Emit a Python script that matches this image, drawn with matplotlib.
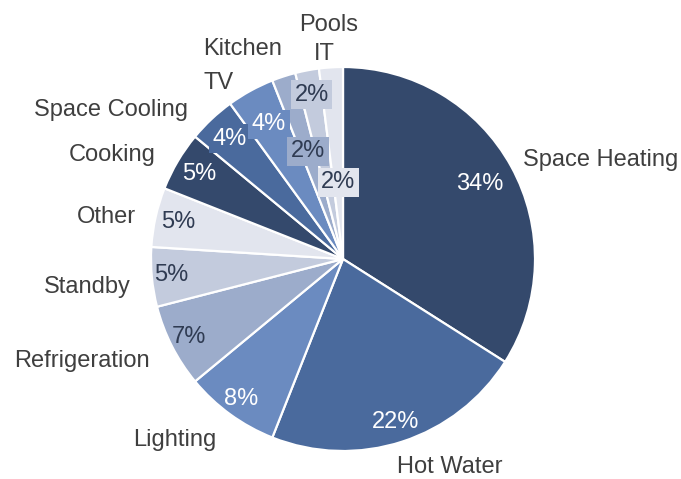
import matplotlib
matplotlib.use("Agg")
import matplotlib.pyplot as plt
import numpy as np

plt.rcParams['font.family'] = ['Liberation Sans', 'DejaVu Sans']

# Household electricity use by end use (%)
categories = ["Space Heating", "Hot Water", "Lighting", "Refrigeration", "Standby",
              "Other", "Cooking", "Space Cooling", "Kitchen", "TV", "Pools", "IT"]
values = [34, 22, 8, 7, 5, 5, 5, 4, 4, 2, 2, 2]

# Six-step blue ramp, repeated around the pie
shades = ["#34496c", "#4a6a9d", "#6b8bc0", "#9caccb", "#c3cbdd", "#e2e5ee"]
colors = [shades[i % len(shades)] for i in range(len(values))]

W, H = 681, 479
cx, cy, R = 343, H - 259, 192

fig = plt.figure(figsize=(W / 100, H / 100), dpi=100)
ax = fig.add_axes([0, 0, 1, 1])

wedges, _ = ax.pie(values, colors=colors, startangle=90, counterclock=False,
                   center=(cx, cy), radius=R,
                   wedgeprops=dict(edgecolor="white", linewidth=1.6))
ax.set_xlim(0, W)
ax.set_ylim(0, H)
ax.set_aspect("auto")
ax.axis("off")

# radial placement of the percentage labels (fraction of radius)
pct_radius = [0.815, 0.89, 0.90, 0.90, 0.90, 0.88, 0.87, 0.86, 0.80, 0.59, 0.87, 0.40]
pct_light_text = [True, True, True, False, False, False, True, True, True, False, False, False]
pct_boxed = [False] * 7 + [True] * 5

for w, v, fr, light, boxed, col in zip(wedges, values, pct_radius, pct_light_text,
                                       pct_boxed, colors):
    mid = np.deg2rad((w.theta1 + w.theta2) / 2)
    x = cx + R * fr * np.cos(mid)
    y = cy + R * fr * np.sin(mid)
    kw = {}
    if boxed:
        kw["bbox"] = dict(boxstyle="square,pad=0.15", fc=col, ec="none")
    ax.text(x, y, f"{v}%", ha="center", va="center", fontsize=17,
            color="white" if light else "#2f3b52", **kw)

# category labels around the pie (pixel positions, top-left origin)
outer_labels = [
    ("Space Heating", 601, 160, "center"),
    ("Hot Water", 450, 467, "center"),
    ("Lighting", 175, 440, "center"),
    ("Refrigeration", 82, 361, "center"),
    ("Standby", 87, 287, "center"),
    ("Other", 106, 217, "center"),
    ("Cooking", 112, 155, "center"),
    ("Space Cooling", 111, 110, "center"),
    ("Kitchen", 203, 49, "left"),
    ("TV", 203, 83, "left"),
    ("Pools", 329, 25, "center"),
    ("IT", 324, 54, "center"),
]
for txt, x, y, ha in outer_labels:
    ax.text(x, H - y, txt, ha=ha, va="center", fontsize=17, color="#3f3f3f")

fig.savefig("out.png", dpi=100)
